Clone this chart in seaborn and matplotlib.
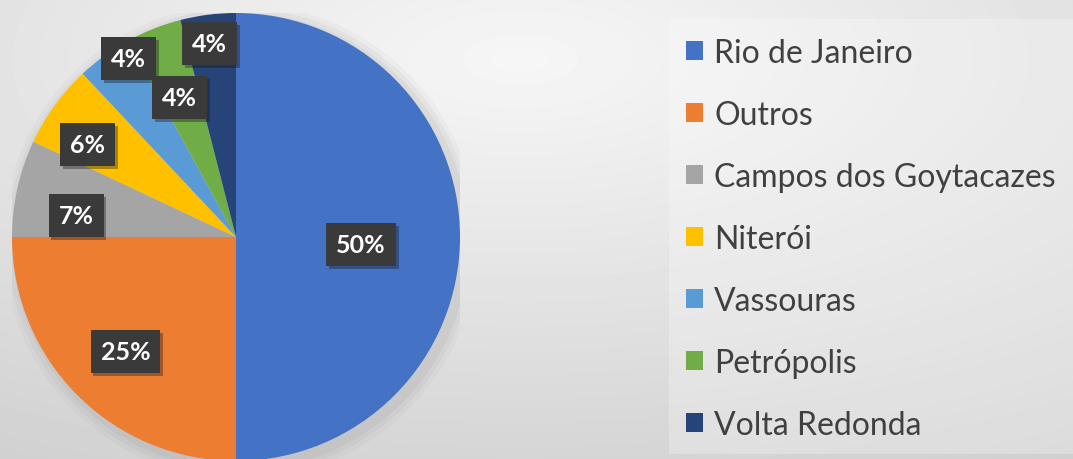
import numpy as np
import seaborn as sns
import matplotlib.pyplot as plt
import matplotlib.patheffects as pe
from matplotlib.patches import Rectangle, Circle

cidades = ['Rio de Janeiro', 'Outros', 'Campos dos Goytacazes', 'Niterói',
           'Vassouras', 'Petrópolis', 'Volta Redonda']
percentuais = [50, 25, 7, 6, 4, 4, 4]
cores = ['#4472C4', '#ED7D31', '#A5A5A5', '#FFC000', '#5B9BD5', '#70AD47', '#264478']

sns.set_theme(style='white')
plt.rcParams['font.family'] = ['Lato', 'DejaVu Sans']

W, H = 1073, 460
fig = plt.figure(figsize=(W / 100, H / 100), dpi=100)

# fundo com degradê radial
bg = fig.add_axes([0, 0, 1, 1], zorder=0)
yy, xx = np.mgrid[0:H, 0:W]
d = np.sqrt(((xx - 520) / W) ** 2 + ((yy - 60) / H) ** 2)
bg.imshow(0.965 - 0.15 * d / d.max(), cmap='gray', vmin=0, vmax=1,
          extent=[0, W, H, 0], aspect='auto')
bg.set_xlim(0, W)
bg.set_ylim(H, 0)
bg.add_patch(Rectangle((669, 20), W - 669, 435, fc='white', alpha=0.25, ec='none'))
bg.axis('off')

# pizza
ax = fig.add_axes([12 / W, (H - 462) / H, 448 / W, 448 / H], zorder=1)
for k, a in zip([1.06, 1.04, 1.02], [0.05, 0.07, 0.09]):
    ax.add_patch(Circle((0.02, -0.02), k, fc='#808080', alpha=a, ec='none'))
wedges, _ = ax.pie(percentuais, colors=cores, startangle=90, counterclock=False,
                   wedgeprops=dict(linewidth=0))
ax.set_xlim(-1, 1)
ax.set_ylim(-1, 1)
ax.set_aspect('equal')
ax.axis('off')

raios = [0.56, 0.71, 0.72, 0.78, 0.93, 0.67, 0.87]
desvio = [-3.6, 1, 5, 4, -5, 0.5, 0.5]
for w, p, r, dv in zip(wedges, percentuais, raios, desvio):
    ang = np.deg2rad((w.theta1 + w.theta2) / 2 + dv)
    t = ax.text(r * np.cos(ang), r * np.sin(ang), f'{p}%', ha='center', va='center',
                color='white', fontsize=18, fontweight='bold',
                bbox=dict(boxstyle='square,pad=0.4', fc='#3a3a3a', ec='none'))
    t.get_bbox_patch().set_path_effects([pe.SimplePatchShadow(offset=(2, -2), alpha=0.35),
                                         pe.Normal()])

leg = fig.legend(wedges, cidades, loc='upper left', bbox_to_anchor=(686 / W, 1 - 39 / H),
                 frameon=False, fontsize=23, labelspacing=1.0, handlelength=0.53,
                 handleheight=0.53, handletextpad=0.35, borderpad=0, borderaxespad=0)
for txt in leg.get_texts():
    txt.set_color('#404040')

fig.savefig('out.png', dpi=100)
